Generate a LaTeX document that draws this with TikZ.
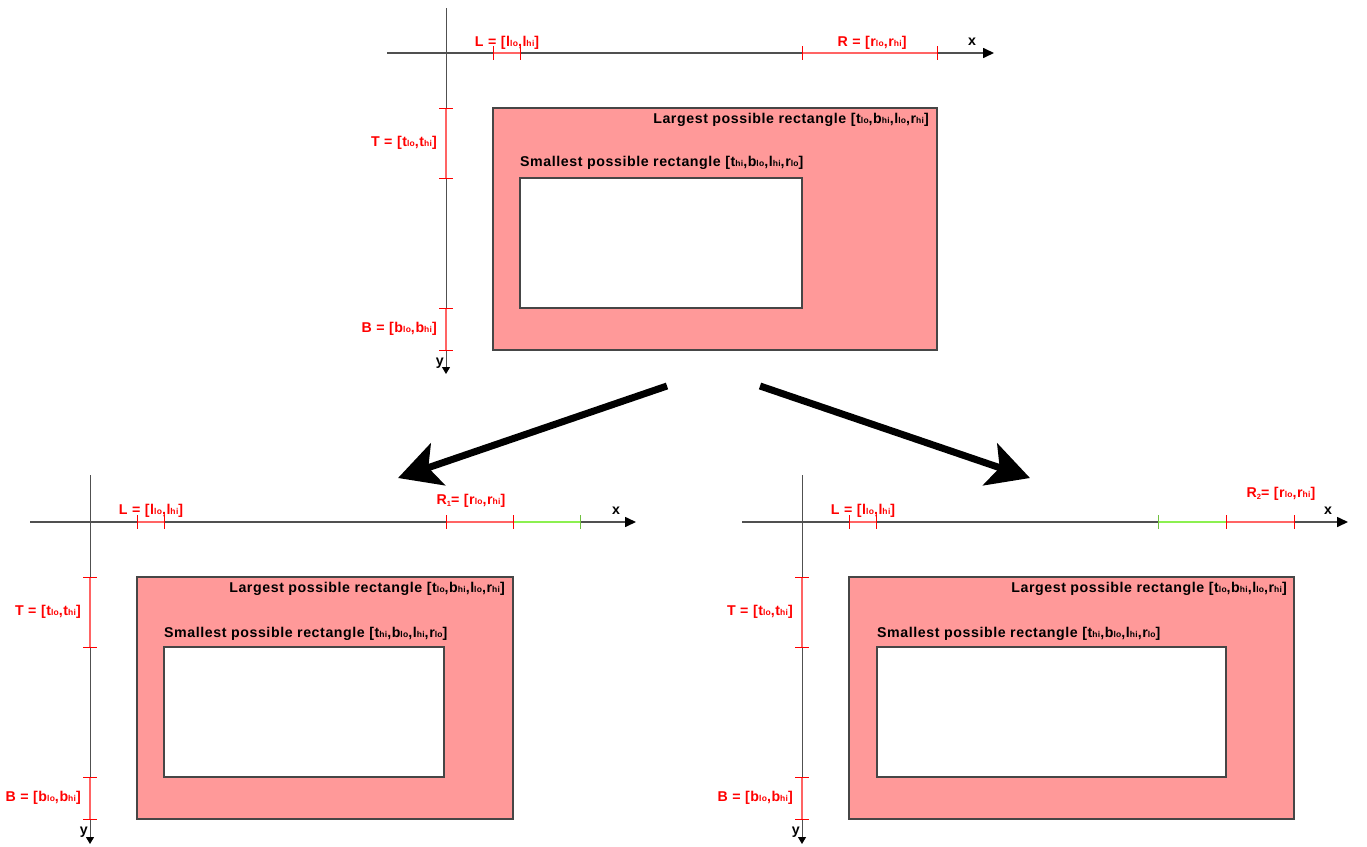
\documentclass[tikz,border=0pt]{standalone}
\usepackage{fontspec}
\setmainfont{Liberation Sans}[LetterSpace=4]
\usepackage{tikz}
\usetikzlibrary{arrows.meta}

\definecolor{bigfill}{RGB}{255,153,153}
\definecolor{segred}{RGB}{255,100,100}
\definecolor{seggreen}{RGB}{140,240,80}
\definecolor{axisgray}{RGB}{80,80,80}
\definecolor{rectgray}{RGB}{70,70,70}

% small index text (lo / hi)
\newcommand{\slo}{{\fontsize{8.5}{9}\selectfont lo}}
\newcommand{\shi}{{\fontsize{8.5}{9}\selectfont hi}}
\newcommand{\sone}[1]{\raisebox{-2pt}{\fontsize{7.5}{8}\selectfont #1}}

\begin{document}
\begin{tikzpicture}[x=1pt, y=-1pt,
  font=\bfseries\fontsize{14.2}{16}\selectfont,
  xaxis/.style={draw=axisgray, line width=1.6pt, -{Triangle[length=11pt,width=10pt,color=black]}},
  yaxis/.style={draw=axisgray, line width=1pt, -{Triangle[length=7pt,width=8pt,color=black]}},
  rseg/.style={draw=segred, line width=1.6pt},
  gseg/.style={draw=seggreen, line width=1.8pt},
  rtick/.style={draw=red, line width=1pt},
  gtick/.style={draw=seggreen!80!black, line width=1pt},
  rlab/.style={text=red, inner sep=0pt},
  blab/.style={inner sep=0pt},
  big/.style={draw=rectgray, line width=1.2pt, fill=bigfill},
  small/.style={draw=rectgray, line width=1.2pt, fill=white},
  bigarr/.style={line width=7pt, -{Stealth[length=42pt,width=44pt,inset=10pt]}},
]
\useasboundingbox (0,0) rectangle (1367,846);

% ---- oben: Ausgangslage
\begin{scope}[shift={(446,53)}]
  \draw[yaxis] (0,-45) -- (0,321);
  \draw[xaxis] (-59,0) -- (548,0);
  \draw[rseg] (47,0) -- (74,0);
  \draw[rseg] (356,0) -- (491,0);
  \draw[rseg] (0,55) -- (0,125);
  \draw[rseg] (0,255) -- (0,297);
  \foreach \t in {47,74,356,491} \draw[rtick] (\t,-7) -- (\t,7);
  \foreach \t in {55,125,255,297} \draw[rtick] (-7,\t) -- (7,\t);
  \draw[big] (47,55) rectangle (491,297);
  \draw[small] (74,125) rectangle (356,255);
  \node[rlab, anchor=base] (aL) at (61,-7) {L = [l\slo,l\shi]};
  \node[rlab, anchor=base] (aR) at (426,-7) {R = [r\slo,r\shi]};
  \node[blab, anchor=base] (ax) at (526,-8) {x};
  \node[rlab, anchor=east] (aT) at (-9,90) {T = [t\slo,t\shi]};
  \node[rlab, anchor=east] (aB) at (-9,276) {B = [b\slo,b\shi]};
  \node[blab, anchor=east] (ay) at (-2,310) {y};
  \node[blab, anchor=east] (abig) at (483,67) {Largest possible rectangle [t\slo,b\shi,l\slo,r\shi]};
  \node[blab, anchor=west] (asmall) at (74,110) {Smallest possible rectangle [t\shi,b\slo,l\shi,r\slo]};
  \coordinate (aout) at (221,333);
  \coordinate (aout2) at (314,333);
\end{scope}

% ---- unten links: R1
\begin{scope}[shift={(90,522)}]
  \draw[yaxis] (0,-47) -- (0,322);
  \draw[xaxis] (-60,0) -- (546,0);
  \draw[rseg] (47,0) -- (74,0);
  \draw[rseg] (356,0) -- (423,0);
  \draw[gseg] (423,0) -- (490,0);
  \draw[rseg] (0,55) -- (0,125);
  \draw[rseg] (0,255) -- (0,297);
  \foreach \t in {47,74,356,423} \draw[rtick] (\t,-7) -- (\t,7);
  \draw[gtick] (490,-7) -- (490,7);
  \foreach \t in {55,125,255,297} \draw[rtick] (-7,\t) -- (7,\t);
  \draw[big] (47,55) rectangle (423,297);
  \draw[small] (74,125) rectangle (354,255);
  \node[rlab, anchor=base] (bL) at (61,-8) {L = [l\slo,l\shi]};
  \node[rlab, anchor=base] (bR) at (381,-18) {R\sone{1}= [r\slo,r\shi]};
  \node[blab, anchor=base] (bx) at (526,-8) {x};
  \node[rlab, anchor=east] (bT) at (-9,90) {T = [t\slo,t\shi]};
  \node[rlab, anchor=east] (bB) at (-9,276) {B = [b\slo,b\shi]};
  \node[blab, anchor=east] (by) at (-2,310) {y};
  \node[blab, anchor=east] (bbig) at (415,67) {Largest possible rectangle [t\slo,b\shi,l\slo,r\shi]};
  \node[blab, anchor=west] (bsmall) at (74,112) {Smallest possible rectangle [t\shi,b\slo,l\shi,r\slo]};
  \coordinate (bin) at (308,-44);
\end{scope}

% ---- unten rechts: R2
\begin{scope}[shift={(802,522)}]
  \draw[yaxis] (0,-47) -- (0,322);
  \draw[xaxis] (-60,0) -- (546,0);
  \draw[rseg] (47,0) -- (74,0);
  \draw[gseg] (356,0) -- (424,0);
  \draw[rseg] (424,0) -- (492,0);
  \draw[rseg] (0,55) -- (0,125);
  \draw[rseg] (0,255) -- (0,297);
  \foreach \t in {47,74,424,492} \draw[rtick] (\t,-7) -- (\t,7);
  \draw[gtick] (356,-7) -- (356,7);
  \foreach \t in {55,125,255,297} \draw[rtick] (-7,\t) -- (7,\t);
  \draw[big] (47,55) rectangle (492,297);
  \draw[small] (75,125) rectangle (424,255);
  \node[rlab, anchor=base] (cL) at (61,-8) {L = [l\slo,l\shi]};
  \node[rlab, anchor=base] (cR) at (479,-25) {R\sone{2}= [r\slo,r\shi]};
  \node[blab, anchor=base] (cx) at (526,-8) {x};
  \node[rlab, anchor=east] (cT) at (-9,90) {T = [t\slo,t\shi]};
  \node[rlab, anchor=east] (cB) at (-9,276) {B = [b\slo,b\shi]};
  \node[blab, anchor=east] (cy) at (-2,310) {y};
  \node[blab, anchor=east] (cbig) at (485,67) {Largest possible rectangle [t\slo,b\shi,l\slo,r\shi]};
  \node[blab, anchor=west] (csmall) at (75,112) {Smallest possible rectangle [t\shi,b\slo,l\shi,r\slo]};
  \coordinate (cin) at (228,-44);
\end{scope}

% Aufspaltung
\draw[bigarr] (aout) -- (bin);
\draw[bigarr] (aout2) -- (cin);
\end{tikzpicture}
\end{document}
